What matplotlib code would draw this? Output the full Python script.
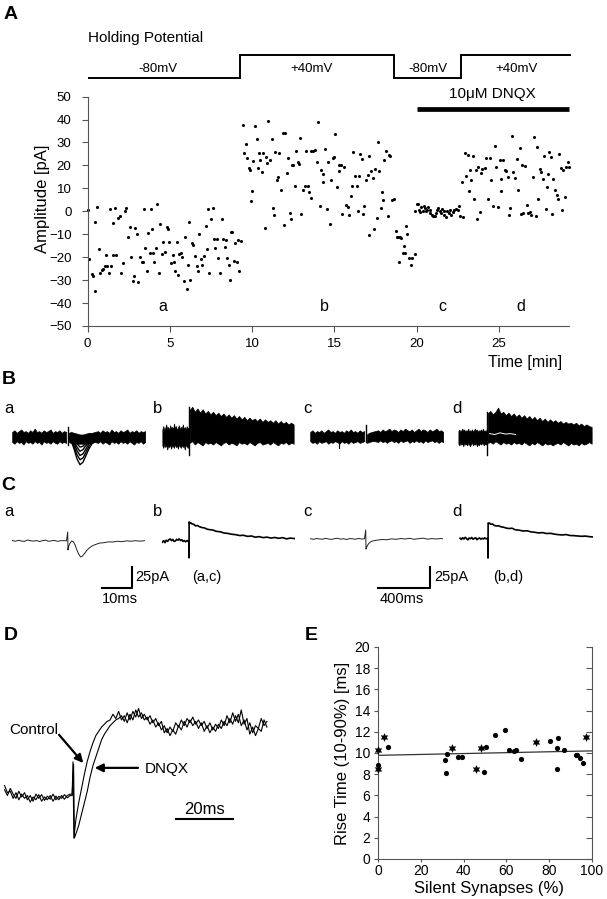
import numpy as np
import matplotlib
matplotlib.use("Agg")
import matplotlib.pyplot as plt

plt.rcParams['font.family'] = ['Liberation Sans', 'DejaVu Sans']

# ---------------- DATA ----------------
# Panel A: holding potential protocol
hp_edges = [0, 9.3, 18.66, 22.7, 29.4]          # min
hp_levels = [-80, 40, -80, 40]                  # mV
hp_label_t = [4.29, 13.65, 20.7, 26.1]
hp_labels = ['-80mV', '+40mV', '-80mV', '+40mV']
dnqx_start, dnqx_end = 20.0, 29.27
region_t = [4.6, 14.4, 21.6, 26.35]
region_names = ['a', 'b', 'c', 'd']

seg_a = [(0.06, 0.7), (0.10, -21), (0.27, -27.5), (0.36, -28), (0.47, -34.7), (0.43, -4.6),
         (0.57, 2), (0.67, -16.5), (0.77, -27), (0.87, -25.5), (0.97, -25), (1.07, -24),
         (1.13, -19), (1.17, -24), (1.28, -27), (1.34, 1), (1.44, -24), (1.54, -19),
         (1.58, -5), (1.68, 1.5), (1.74, -19), (1.88, -3), (1.99, -2), (2.05, -27),
         (2.15, -22.5), (2.25, 0), (2.35, 1.5), (2.49, -11), (2.59, -7), (2.65, -20),
         (2.76, -30.5), (2.84, -28), (2.90, -7.3), (3.00, -9.8), (3.10, -31), (3.20, -20),
         (3.30, -22), (3.40, -22), (3.42, 1), (3.50, -16), (3.60, -26), (3.66, -9.5),
         (3.77, -18), (3.85, 1), (3.90, -7.8), (3.97, -18), (4.05, -22), (4.15, -16),
         (4.25, 3), (4.32, -27), (4.42, -5.5), (4.52, -18.7), (4.62, -13.5), (4.72, -17.8),
         (4.82, -7), (4.88, -7.6), (4.98, -13.6), (5.09, -22.5), (5.19, -19), (5.23, -22),
         (5.33, -26), (5.43, -13.5), (5.49, -27.7), (5.59, -18.6), (5.67, -18), (5.73, -20),
         (5.84, -30.6), (5.94, -11), (6.04, -34), (6.10, -23.6), (6.18, -4.8), (6.24, -30),
         (6.34, -14), (6.44, -14.6), (6.55, -19.7), (6.65, -24), (6.69, -26), (6.79, -9.8),
         (6.89, -21), (6.99, -23.4), (7.09, -19.7), (7.19, -6.3), (7.29, -16.5), (7.35, 1),
         (7.41, -27), (7.51, -3.4), (7.60, 1.5), (7.70, -12), (7.76, -16), (7.86, -12),
         (7.96, -20.3), (8.07, -26.7), (8.17, -3.3), (8.23, -12), (8.33, -15.4), (8.41, -12.3),
         (8.51, -20.4), (8.59, -23.2), (8.67, -30), (8.73, -9.2), (8.81, -9), (8.88, -21.5),
         (8.98, -14), (9.08, -22), (9.12, -12.7), (9.24, -26), (9.32, -13)]

seg_b = [(9.44, 37.8), (9.52, 25.4), (9.62, 29.5), (9.68, 23.2), (9.79, 18.9), (9.85, 18),
         (9.93, 4.3), (10.01, 8.7), (10.09, 21.8), (10.19, 37.3), (10.29, 31.5), (10.35, 18.9),
         (10.43, 25.4), (10.5, 22.5), (10.58, 17), (10.66, 25.4), (10.76, -7.3), (10.84, 23.5),
         (10.92, 21), (11.0, 39.2), (11.1, 22.5), (11.2, 31.5), (11.26, 1.4), (11.34, -1.5),
         (11.42, 25.8), (11.5, 13.5), (11.58, 15), (11.66, 25.4), (11.76, 9.4), (11.9, 34.1),
         (11.95, -5.8), (12.03, 34.1), (12.1, 16.7), (12.2, 23.2), (12.28, -0.8), (12.36, -3.4),
         (12.44, 20.3), (12.52, 20.3), (12.6, 10.9), (12.68, 26.1), (12.78, 21.3), (12.86, 20.7),
         (12.93, 32), (13.0, -1), (13.1, 9.4), (13.2, 10.9), (13.3, 26.4), (13.43, 10.9),
         (13.48, 8.2), (13.58, 5.7), (13.58, 26.4), (13.72, 26.4), (13.84, 26.9), (13.98, 21.3),
         (14.04, 38.8), (14.13, 2.1), (14.19, 18.1), (14.29, 16.4), (14.33, 12.6), (14.45, 27.2),
         (14.55, 0.9), (14.65, 21.3), (14.74, -5.6), (14.8, 13.5), (14.9, 23.2), (14.96, 23.6),
         (15.06, 33.7), (15.14, 10.4), (15.26, 17.4), (15.3, 20.3), (15.4, 20.3), (15.47, -1.1),
         (15.61, 19.3), (15.71, 2.8), (15.81, 1.8), (15.91, -1.5), (16.0, 6.5), (16.08, 10.9),
         (16.16, 25.8), (16.28, 15.5), (16.36, 10.9), (16.42, 0), (16.48, 15.5), (16.59, 25.1),
         (16.67, 22.8), (16.73, -1.1), (16.83, 2.1), (16.93, 13.7), (17.03, 15.9), (17.1, 24.2),
         (17.13, -10.3), (17.24, 17.4), (17.34, 14.5), (17.4, -7.8), (17.5, 18.4), (17.58, -3),
         (17.64, 30), (17.74, 17.4), (17.84, 1.4), (17.9, 8.2), (17.99, 5), (18.05, 22.5),
         (18.15, 26.1), (18.25, -2), (18.31, 24.7), (18.39, 23.9), (18.52, 5), (18.62, 5.5),
         (18.76, -8.8), (18.82, -11.4), (18.92, -11.4), (19.0, -11.4), (19.07, -11.7),
         (19.17, -18.3), (19.23, -15.1), (19.33, -18.3), (19.37, -6.3), (19.43, -9.8),
         (18.96, -22.3), (19.57, -20.2), (19.67, -23.4), (19.74, -20.5), (19.88, -18.7)]

seg_c = [(19.88, 0), (20.0, 3.1), (20.1, 3.1), (20.16, 0.4), (20.24, -0.5), (20.3, 1.8),
         (20.37, 0), (20.45, 2.4), (20.5, 1.4), (20.57, 0), (20.63, 0.7), (20.7, 1.8),
         (20.8, 0.4), (20.85, -0.8), (20.93, -1.5), (21.0, -2), (21.1, -2), (21.16, -0.8),
         (21.24, 0.4), (21.3, 1.4), (21.4, 0), (21.5, -0.8), (21.57, 0.9), (21.65, -1.5),
         (21.7, 0), (21.8, -2.5), (21.87, 0), (21.97, -0.8), (22.05, 0.4), (22.1, -1.5),
         (22.2, -0.5), (22.3, 0.4), (22.4, 0.9), (22.5, 0.4), (22.57, 2.4), (22.67, -2),
         (22.8, -2.3)]

seg_d = [(22.78, 12.6), (22.93, 25.4), (23.03, 15.5), (23.13, 24.7), (23.2, 8.7), (23.28, 18.1),
         (23.33, 13.7), (23.43, 23.9), (23.5, 5.3), (23.6, 18.1), (23.7, -3.4), (23.74, 19.3),
         (23.84, -0.5), (23.94, 16.7), (24.0, 18.4), (24.15, 18.9), (24.25, 23.2), (24.35, 5.3),
         (24.45, 23.2), (24.55, 13.5), (24.65, 2.1), (24.76, 28.3), (24.86, 19.3), (24.96, 1.8),
         (25.06, 22.5), (25.12, 8.7), (25.16, 14), (25.26, 22.2), (25.37, 17.8), (25.43, 17.4),
         (25.57, 14.9), (25.63, -1.5), (25.71, 1.4), (25.81, 32.7), (25.87, 17), (25.98, 14.5),
         (26.08, 22.8), (26.18, 9.4), (26.28, 27.6), (26.34, -1.1), (26.42, 20.3), (26.48, -0.8),
         (26.58, 19.9), (26.69, 2.8), (26.79, -0.8), (26.89, -0.5), (26.99, -1.5), (27.09, 14.9),
         (27.15, 32.4), (27.26, -2), (27.34, 28), (27.4, 5.3), (27.5, 18.4), (27.56, 17),
         (27.66, 14), (27.76, 23.9), (27.85, 0.9), (27.91, 10.6), (28.01, 16.4), (28.07, 25.7),
         (28.15, 23.5), (28.25, -1.1), (28.31, 14), (28.41, 9.1), (28.52, 7.2), (28.62, 5.3),
         (28.68, 25.1), (28.76, 18.9), (28.86, 0.4), (28.92, 18.1), (29.02, 6.2), (29.08, 19.3),
         (29.18, 21.3), (29.28, 19.3)]

# Panel B: envelopes of superimposed sweeps (pA); time in ms
Ba_pre_t = np.arange(-18.6, -0.2, 0.75)
Ba_pre_up = [6, 8, 5, 7, 9, 6, 7, 5, 8, 6, 10, 6, 7, 5, 8, 6, 7, 9, 5, 7, 6, 8, 5, 7, 6]
Ba_pre_lo = [-6, -8, -5, -7, -6, -9, -5, -7, -6, -8, -5, -7, -6, -9, -5, -7, -6, -8, -5, -7,
             -8, -5, -7, -6, -7]
Ba_post_t = np.concatenate([[0.3, 1, 2, 3, 4, 5, 6, 7, 8, 9], np.arange(10, 25.8, 0.75)])
Ba_post_up = [5, 6, 5, 4, 3, 3, 4, 5, 5, 6,
              7, 5, 8, 6, 7, 5, 9, 6, 7, 5, 8, 6, 7, 9, 5, 7, 6, 8, 5, 7, 6, 7]
Ba_post_lo = [-6, -7, -8, -8, -8, -8, -8, -7, -7, -6,
              -7, -5, -8, -6, -7, -9, -5, -7, -6, -8, -5, -7, -6, -8, -5, -7, -9, -6, -7, -5,
              -8, -6]
Ba_art = [-10, 12]
Ba_fan_t = [0.3, 1, 2, 3, 4, 5, 6, 7, 8, 9, 10, 12]
Ba_fan = [[0, -4, -14, -26, -33, -30, -22, -14, -8, -4, -2, 0],
          [0, -3, -11, -21, -27, -25, -18, -11, -6, -3, -1, 0],
          [0, -2, -8, -16, -22, -20, -14, -8, -4, -2, 0, 0],
          [0, -2, -6, -12, -17, -15, -10, -6, -3, -1, 0, 0],
          [0, -1, -4, -8, -12, -11, -7, -4, -2, 0, 0, 0],
          [0, -1, -3, -5, -7, -6, -4, -2, -1, 0, 0, 0]]

Bb_pre_t = np.arange(-205, 0, 7.5)
Bb_pre_up = [9, 13, 8, 11, 15, 9, 12, 8, 14, 10, 12, 9, 16, 10, 13, 8, 11, 14, 9, 12, 10, 15,
             9, 12, 8, 13, 10, 11]
Bb_pre_lo = [-10, -13, -8, -12, -9, -15, -10, -12, -9, -14, -10, -11, -13, -8, -12, -10, -14,
             -9, -11, -13, -9, -12, -10, -15, -9, -11, -13, -10]
Bb_post_t = np.arange(5, 816, 20)
Bb_post_up = [32, 36, 30, 34, 29, 33, 28, 31, 27, 30, 26, 29, 25, 28, 24, 27, 23, 26, 22, 25,
              21, 24, 20, 23, 20, 22, 19, 22, 18, 21, 18, 20, 17, 20, 16, 19, 16, 18, 15, 17, 15]
Bb_post_lo = [-7, -5, -9, -6, -8, -10, -6, -8, -7, -9, -6, -8, -10, -7, -6, -9, -7, -8, -10, -6,
              -8, -7, -9, -6, -8, -10, -7, -6, -9, -8, -7, -9, -6, -8, -10, -7, -8, -6, -9, -7, -8]
Bb_art = [-21, 36]

Bc_pre_t = np.arange(-18.6, -0.2, 0.75)
Bc_pre_up = [6, 8, 5, 7, 6, 8, 5, 7, 9, 6, 7, 5, 8, 6, 7, 5, 8, 6, 9, 6, 7, 5, 8, 6, 7]
Bc_pre_lo = [-5, -7, -6, -8, -5, -7, -6, -5, -8, -6, -7, -5, -6, -8, -5, -7, -6, -8, -5, -7,
             -6, -5, -7, -6, -5]
Bc_spike = (-9, [-6, -13])
Bc_post_t = np.concatenate([[0.3, 1, 2, 3], np.arange(4, 25.8, 0.75)])
Bc_post_up = [3, 5, 6, 7,
              8, 6, 9, 7, 8, 10, 7, 9, 8, 6, 9, 7, 10, 8, 7, 9, 6, 8, 10, 7, 9, 8, 6, 9, 7, 8,
              10, 7, 8, 6]
Bc_post_lo = [-7, -6, -5, -5,
              -6, -4, -6, -5, -7, -5, -4, -6, -5, -7, -4, -6, -5, -4, -7, -5, -6, -4, -6, -5,
              -7, -4, -6, -5, -4, -6, -5, -7, -5, -6]
Bc_art = [-6, 14]

Bd_pre_t = np.arange(-220, 0, 7.5)
Bd_pre_up = [7, 9, 6, 8, 10, 7, 9, 6, 8, 7, 10, 6, 8, 7, 9, 6, 8, 10, 7, 9, 6, 8, 7, 9, 6, 10,
             7, 8, 6, 9]
Bd_pre_lo = [-8, -10, -7, -9, -8, -11, -7, -9, -8, -10, -7, -9, -11, -8, -7, -10, -8, -9, -7,
             -11, -8, -10, -7, -9, -8, -7, -10, -8, -9, -7]
Bd_post_t = np.arange(5, 816, 20)
Bd_post_up = [28, 31, 27, 30, 35, 28, 30, 26, 29, 25, 28, 24, 27, 23, 26, 22, 25, 21, 24, 20,
              23, 19, 22, 18, 21, 18, 20, 17, 19, 16, 18, 16, 17, 15, 17, 14, 16, 13, 15, 13, 12]
Bd_post_lo = [-7, -6, -8, -5, -7, -9, -6, -8, -7, -9, -6, -8, -7, -9, -6, -8, -10, -7, -9, -6,
              -8, -10, -7, -9, -8, -10, -8, -7, -9, -6, -8, -10, -7, -9, -8, -10, -7, -9, -8, -6,
              -8]
Bd_art = [-21, 30]
Bd_gap_t = [20, 60, 100, 140, 180, 220]
Bd_gap = [4, 3, 5, 3.5, 4, 3]

# Panel C: averaged traces (pA)
Ca_t = list(np.arange(-18.5, 0, 1.0)) + [-0.1, 0.0, 0.1, 0.6, 1.2, 1.8, 2.4, 3.0, 3.6, 4.2, 4.8,
        5.5, 6.3, 7.2, 8.2, 9.3, 10.5, 12.0, 13.5, 15.0, 16.5, 18.0, 19.5, 21.0, 22.5, 24.0, 25.5]
Ca_v = [0.5, -0.3, 0.8, 0.0, -0.5, 1.2, 0.3, -0.2, 0.6, -0.6, 0.4, 1.0, -0.3, 0.2, 0.7, -0.4,
        0.3, 0.5, 0.2, 10.7, -10.7, -8, -3, 0, -1, -5, -11, -16, -19, -18, -15, -11, -8, -5.5,
        -4, -2.5, -2, -1, -1.2, -0.3, -0.8, 0.2, -0.3, 0.4, -0.2, 0.3]
post_t_long = [5, 12, 20, 35, 50, 65, 80, 100, 120, 140, 160, 185, 210, 240, 270, 300, 330,
               360, 390, 420, 450, 480, 510, 540, 570, 600, 630, 660, 690, 720, 750, 780]
Cb_t = list(np.arange(-205, 0, 10)) + [-1, 0, 1] + post_t_long + [815]
Cb_v = [-1.5, 0.5, -2.0, 1.0, -0.5, 1.5, 2.5, 0.5, 1.8, -0.5, 0.0, 2.0, 1.0, 2.5, 0.5, 1.5,
        -0.5, 0.5, -1.0, 0.5, -0.5, 0, -20, 22.6,
        21, 22, 20.5, 20, 18, 18.5, 17, 16, 15.5, 14, 13.5, 13, 11.5, 11, 9.5, 9, 8, 7.5, 6.5,
        6.8, 5.5, 6, 4.5, 5.2, 4, 4.6, 3.5, 4.2, 3.2, 4, 2.5, 3.5, 2.8]
Cc_t = list(np.arange(-18.5, 0, 1.0)) + [-0.1, 0.0, 0.2, 0.6, 1.0, 1.5, 2.0, 3.0, 4.0, 5.5, 7.0,
        8.5, 10, 11.5, 13, 14.5, 16, 17.5, 19, 20.5, 22, 23.5, 25, 25.7]
Cc_v = [0.3, -0.4, 0.6, 0.1, -0.3, 0.8, 0.0, -0.5, 0.4, 0.9, -0.2, 0.3, -0.6, 0.5, 0.2, -0.3,
        0.7, 0.0, 0.3, 10.7, -12, -10, -7, -5, -3.5, -2.5, -1.8, -1.2, -0.6, -0.9, 0.2, -0.4,
        0.5, 0, 0.8, -0.3, 0.4, 1.0, -0.2, 0.5, 0.0, 0.6, 0.2]
Cd_t = list(np.arange(-215, 0, 10)) + [-1, 0, 1] + post_t_long + [808]
Cd_v = [1.0, -0.5, 1.5, 0.0, 2.0, 0.5, -1.0, 1.2, 0.3, 1.8, -0.3, 0.8, 1.5, -0.8, 0.5, 1.2,
        -0.2, 0.9, 0.0, 1.4, 0.2, 0.6, 0, -22.6, 19,
        18.5, 19, 17.5, 17.8, 16, 15.5, 15.8, 14.5, 14, 13, 12.5, 12.8, 11, 10.5, 9.5, 9.8,
        8.5, 8.0, 7.2, 7.6, 6.5, 6.8, 5.8, 5.2, 4.8, 5.3, 4.2, 4.0, 3.6, 3.2, 3.5, 2.8, 2.4]
scale_ac = (10, 25)     # ms, pA
scale_bd = (400, 25)

# Panel D: control vs DNQX (ms, pA)
D_base_t = list(range(-24, 0))
ctrl_base = [2.5, 0.5, 3.0, 1.0, -0.5, 2.0, 0.0, 1.5, -1.0, 0.5, -1.5, 1.0, -0.5, 0.8, -1.2,
             0.3, -0.8, 1.0, -1.0, 0.2, -0.5, 0.8, -0.3, 0.5]
dnqx_base = [4.0, 1.5, 2.0, -0.5, 1.5, -1.0, 1.0, -0.5, 0.5, -1.8, 0.0, -1.0, 0.8, -1.5, 0.0,
             -1.0, 0.5, -1.5, 0.3, -1.0, 0.5, -0.8, 0.5, 1.0]
ctrl_art_t, ctrl_art = [-0.3, 0.0, 0.3], [0.5, 12.3, -14.4]
dnqx_art_t, dnqx_art = [-0.3, 0.2, 0.5], [1.0, 11.5, -14.4]
ctrl_resp = [-8, -2, 3, 8, 12.5, 16, 19, 21.5, 23, 24.5, 25.5, 26.5,
             27, 29, 27.5, 30, 27, 28.5, 26, 29, 27, 30.5, 28, 29.5, 27, 28, 25.5, 27, 24.5, 26,
             23.5, 25, 22.5, 24.5, 23, 26, 24.5, 27, 25, 27.5, 26, 28, 25.5, 27, 25, 26.5, 24,
             26, 23.5, 25.5, 24, 27, 25, 28.5, 26, 29.5, 26.5, 29, 25, 27, 23.5, 26, 22.5, 25,
             24, 27.5, 25, 26.5]
dnqx_resp = [-13, -10, -6, -2, 2, 7, 11, 14, 17, 20, 22, 23.5, 25, 26, 27,
             27.5, 28.5, 26.5, 29.5, 27, 30, 28, 31, 27.5, 29, 27, 28.5, 26, 27.5, 25, 26.5, 22.5,
             24, 21.5, 23.5, 22, 25, 23.5, 26.5, 24.5, 27, 25, 26.5, 24, 26, 23, 25, 22.5, 24.5,
             23, 25.5, 24, 26.5, 25, 27.5, 25.5, 28.5, 26, 30.5, 25.5, 27.5, 22, 24.5, 21.5, 24,
             23, 27, 24.5]
D_resp_t = list(range(1, 69))
D_scale_ms = 20

# Panel E: rise time vs silent synapses
E_dot_x = [0, 4.7, 31.5, 31.6, 32.4, 37.4, 39.1, 49.5, 50.6, 54.8, 59.2, 61.2, 63.6, 64.3, 67.0,
           80.5, 83.6, 83.8, 84.1, 86.9, 92.4, 93.1, 94.2, 95.8]
E_dot_y = [8.85, 10.55, 9.35, 8.1, 9.95, 9.6, 9.65, 8.2, 10.6, 11.7, 12.2, 10.3, 10.15, 10.3,
           9.45, 11.1, 8.45, 10.45, 11.45, 10.3, 9.8, 9.85, 9.55, 9.1]
E_star_x = [0, 0, 2.8, 34.6, 45.9, 48.3, 74.0, 97.0]
E_star_y = [10.25, 8.5, 11.5, 10.5, 8.5, 10.5, 11.05, 11.5]
E_fit_x = [0, 100]
E_fit_y = [9.78, 10.2]

# ---------------- FIGURE ----------------
W, H = 607, 899
fig = plt.figure(figsize=(W / 100, H / 100), dpi=100)
GRAY = '#555555'


def box(x0, y0, x1, y1):
    return fig.add_axes([x0 / W, 1 - y1 / H, (x1 - x0) / W, (y1 - y0) / H])


def ftext(x, y, s, **kw):
    return fig.text(x / W, 1 - y / H, s, **kw)


def trace_axes(x0, x1, y0, y1, x_art, base, ppt, ppa):
    ax = box(x0, y0, x1, y1)
    ax.set_xlim((x0 - x_art) / ppt, (x1 - x_art) / ppt)
    ax.set_ylim((base - y1) / ppa, (base - y0) / ppa)
    ax.axis('off')
    return ax


# ---- Panel A ----
axA = box(87.5, 96.6, 581.0, 326.0)
axA.set_xlim(0, 30)
axA.set_ylim(-50, 50)
axA.patch.set_alpha(0)
for s in ['top', 'right']:
    axA.spines[s].set_visible(False)
for s in ['left', 'bottom']:
    axA.spines[s].set_color(GRAY)
    axA.spines[s].set_linewidth(0.8)
axA.spines['bottom'].set_bounds(0, 29.27)
axA.set_xticks([0, 5, 10, 15, 20, 25])
axA.set_yticks(range(-50, 51, 10))
axA.tick_params(axis='both', length=4.5, width=0.8, color=GRAY, labelsize=9.5)
axA.tick_params(axis='y', pad=7)
axA.tick_params(axis='x', pad=4)
for seg in (seg_a, seg_b, seg_c, seg_d):
    arr = np.array(seg)
    axA.scatter(arr[:, 0], arr[:, 1], s=5, color='black', linewidths=0, clip_on=False)
axA.plot([dnqx_start, dnqx_end], [44.8, 44.8], color='black', lw=3.4,
         solid_capstyle='butt', clip_on=False)
axA.text((dnqx_start + dnqx_end) / 2, 51.2, '10μM DNQX', ha='center', va='center',
         fontsize=11, clip_on=False)
for t, n in zip(region_t, region_names):
    axA.text(t, -43.4, n, ha='center', va='baseline', fontsize=11.5)

hp = box(87.5, 45, 581.0, 90)
hp.set_xlim(0, 30)
hp.set_ylim(-142.6, 92.2)
hp.axis('off')
hp.stairs(hp_levels, hp_edges, baseline=None, color='black', lw=1.4)
for t, s in zip(hp_label_t, hp_labels):
    hp.text(t, -33, s, ha='center', va='center', fontsize=9.5)

ftext(88, 38, 'Holding Potential', ha='left', va='center', fontsize=11)
ftext(562, 362, 'Time [min]', ha='right', va='center', fontsize=11.5)
ftext(42, 199, 'Amplitude [pA]', ha='center', va='center', rotation=90, fontsize=12)


# ---- Panel B ----
def band(ax, pre_t, pre_up, pre_lo, post_t, post_up, post_lo, art):
    ax.fill_between(pre_t, pre_lo, pre_up, facecolor='black', lw=0.5, edgecolor='black')
    ax.fill_between(post_t, post_lo, post_up, facecolor='black', lw=0.5, edgecolor='black')
    ax.plot([0, 0], art, color='black', lw=1.0)


axBa = trace_axes(12, 145, 395, 480, 68, 437, 3.0, 0.84)
band(axBa, Ba_pre_t, Ba_pre_up, Ba_pre_lo, Ba_post_t, Ba_post_up, Ba_post_lo, Ba_art)
for f in Ba_fan:
    axBa.plot(Ba_fan_t, f, color='black', lw=1.0)

axBb = trace_axes(162, 295, 395, 480, 189, 437, 0.13, 0.84)
band(axBb, Bb_pre_t, Bb_pre_up, Bb_pre_lo, Bb_post_t, Bb_post_up, Bb_post_lo, Bb_art)

axBc = trace_axes(310, 443, 395, 480, 366, 437, 3.0, 0.84)
band(axBc, Bc_pre_t, Bc_pre_up, Bc_pre_lo, Bc_post_t, Bc_post_up, Bc_post_lo, Bc_art)
axBc.plot([Bc_spike[0]] * 2, Bc_spike[1], color='black', lw=0.8)

axBd = trace_axes(458, 593, 395, 480, 487, 437, 0.13, 0.84)
band(axBd, Bd_pre_t, Bd_pre_up, Bd_pre_lo, Bd_post_t, Bd_post_up, Bd_post_lo, Bd_art)
axBd.plot(Bd_gap_t, Bd_gap, color='white', lw=0.7)

for x, n in zip([8.5, 157.5, 307.5, 456.5], region_names):
    ftext(x, 413, n, ha='center', va='baseline', fontsize=12)
    ftext(x, 516, n, ha='center', va='baseline', fontsize=12)

# ---- Panel C ----
axCa = trace_axes(12, 145, 515, 565, 68, 541, 3.0, 0.84)
axCa.plot(Ca_t, Ca_v, color='#222222', lw=0.7)
axCb = trace_axes(162, 295, 515, 565, 189, 541, 0.13, 0.84)
axCb.plot(Cb_t, Cb_v, color='black', lw=1.2)
axCc = trace_axes(310, 443, 515, 565, 366, 539, 3.0, 0.84)
axCc.plot(Cc_t, Cc_v, color='#222222', lw=0.7)
axCd = trace_axes(458, 593, 515, 565, 488, 539, 0.13, 0.84)
axCd.plot(Cd_t, Cd_v, color='black', lw=1.2)

# scale bars
sx_end, sy0 = (132 - 68) / 3.0, (541 - 588) / 0.84
axCa.plot([sx_end - scale_ac[0], sx_end, sx_end], [sy0, sy0, sy0 + scale_ac[1]],
          color='black', lw=1.5, clip_on=False)
sx_end2, sy02 = (430 - 488) / 0.13, (539 - 588) / 0.84
axCd.plot([sx_end2 - scale_bd[0], sx_end2, sx_end2], [sy02, sy02, sy02 + scale_bd[1]],
          color='black', lw=1.5, clip_on=False)
ftext(135, 577, '25pA', ha='left', va='center', fontsize=10.5)
ftext(207, 577, '(a,c)', ha='center', va='center', fontsize=10.5)
ftext(102, 599, '10ms', ha='left', va='center', fontsize=10.5)
ftext(434, 577, '25pA', ha='left', va='center', fontsize=10.5)
ftext(508, 577, '(b,d)', ha='center', va='center', fontsize=10.5)
ftext(380, 599, '400ms', ha='left', va='center', fontsize=10.5)

# ---- Panel D ----
axD = box(0, 690, 300, 850)
axD.set_xlim(-25.6, 79.6)
axD.set_ylim(-18.6, 37.5)
axD.axis('off')
ct = np.concatenate([D_base_t, ctrl_art_t, D_resp_t])
cv = np.concatenate([ctrl_base, ctrl_art, ctrl_resp])
dt = np.concatenate([D_base_t, dnqx_art_t, D_resp_t])
dv = np.concatenate([dnqx_base, dnqx_art, dnqx_resp])
axD.plot(ct, cv, color='black', lw=0.8)
axD.plot(dt, dv, color='black', lw=0.8)
axD.annotate('', xy=(3.6, 11.9), xytext=(-4.9, 21.8),
             arrowprops=dict(arrowstyle='-|>', color='black', lw=1.6, mutation_scale=12,
                             shrinkA=0, shrinkB=0))
axD.text(-5.3, 23.5, 'Control', ha='right', va='center', fontsize=11)
axD.annotate('', xy=(7.6, 10.2), xytext=(22.8, 10.2),
             arrowprops=dict(arrowstyle='-|>', color='black', lw=1.6, mutation_scale=12,
                             shrinkA=0, shrinkB=0))
axD.text(25.3, 9.9, 'DNQX', ha='left', va='center', fontsize=11)
axD.plot([36.1, 36.1 + D_scale_ms], [-7.7, -7.7], color='black', lw=1.5)
axD.text(36.1 + D_scale_ms / 2, -4.4, '20ms', ha='center', va='center', fontsize=12)

# ---- Panel E ----
axE = box(378, 647, 592, 859)
axE.set_xlim(0, 100)
axE.set_ylim(0, 20)
axE.patch.set_alpha(0)
for s in ['top', 'right']:
    axE.spines[s].set_visible(False)
for s in ['left', 'bottom']:
    axE.spines[s].set_color(GRAY)
    axE.spines[s].set_linewidth(0.8)
axE.set_xticks(range(0, 101, 20))
axE.set_yticks(range(0, 21, 2))
axE.tick_params(axis='both', width=0.8, color=GRAY, labelsize=10)
axE.tick_params(axis='x', length=2.5, pad=1.2)
axE.tick_params(axis='y', length=3, pad=2.5)
axE2 = axE.twinx()
axE2.set_ylim(0, 20)
axE2.set_yticks(range(0, 21, 2))
axE2.tick_params(axis='y', direction='in', length=4, width=0.8, color=GRAY, labelright=False)
for s in ['top', 'left', 'bottom']:
    axE2.spines[s].set_visible(False)
axE2.spines['right'].set_color(GRAY)
axE2.spines['right'].set_linewidth(0.8)
axE.plot(E_fit_x, E_fit_y, color='#333333', lw=0.9)
axE.scatter(E_dot_x, E_dot_y, s=14, color='black', linewidths=0, clip_on=False, zorder=3)
axE.scatter(E_star_x, E_star_y, s=40, marker=(6, 1, 0), color='black', linewidths=0,
            clip_on=False, zorder=3)
ftext(342, 753, 'Rise Time (10-90%) [ms]', ha='center', va='center', rotation=90, fontsize=12)
ftext(489, 888, 'Silent Synapses (%)', ha='center', va='center', fontsize=12)

# ---- Panel letters ----
for x, y, s in [(11, 14.5, 'A'), (8.5, 380, 'B'), (8.5, 485, 'C'), (11, 635, 'D'), (311, 635, 'E')]:
    ftext(x, y, s, ha='center', va='center', fontsize=14, fontweight='bold')

fig.savefig('out.png', dpi=100)
